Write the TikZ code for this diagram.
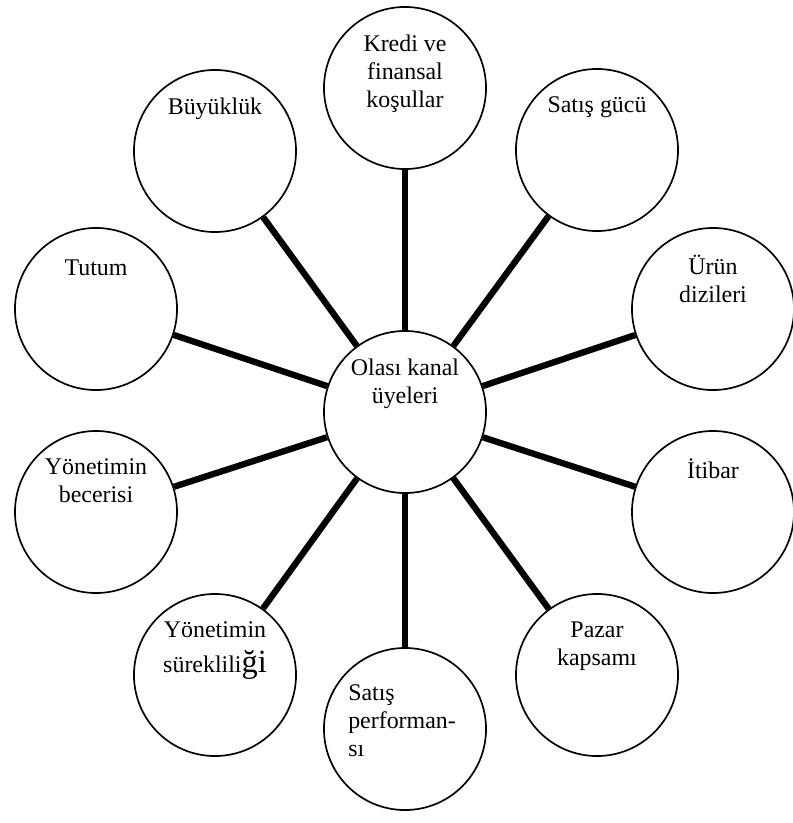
\documentclass[tikz,border=0pt]{standalone}
\usepackage{fontspec}
\setmainfont{Liberation Serif}
\usetikzlibrary{positioning}

\begin{document}
\begin{tikzpicture}[x=0.025cm, y=-0.025cm,
  uye/.style={draw, circle, line width=1.2pt, minimum size=4.05cm, inner sep=0pt},
  yazi/.style={anchor=north, align=center, inner sep=0pt, font=\fontsize{17}{20}\selectfont},
  bag/.style={line width=4.5pt}]

  \useasboundingbox (0,0) rectangle (792,823);

  % Merkezdeki daire
  \node[uye] (merkez) at (405,412) {};

  % Cevredeki daireler
  \node[uye] (kredi) at (405,88) {};
  \node[uye] (buyukluk) at (215,151) {};
  \node[uye] (satis) at (597,150) {};
  \node[uye] (tutum) at (96,309) {};
  \node[uye] (urun) at (713,309) {};
  \node[uye] (beceri) at (96,512) {};
  \node[uye] (itibar) at (713,512) {};
  \node[uye] (sureklilik) at (215,675) {};
  \node[uye] (perf) at (405,729) {};
  \node[uye] (pazar) at (597,675) {};

  % Daire yazilari
  \node[yazi, below=0.7cm of merkez.north] (tmerkez) {Olası kanal\\üyeleri};
  \node[yazi, below=0.7cm of kredi.north] (tkredi) {Kredi ve\\finansal\\koşullar};
  \node[yazi, below=0.7cm of buyukluk.north] (tbuyukluk) {Büyüklük};
  \node[yazi, below=0.7cm of satis.north] (tsatis) {Satış gücü};
  \node[yazi, below=0.8cm of tutum.north] (ttutum) {Tutum};
  \node[yazi, below=0.7cm of urun.north] (turun) {Ürün\\dizileri};
  \node[yazi, below=0.7cm of beceri.north] (tberceri) {Yönetimin\\becerisi};
  \node[yazi, below=0.7cm of itibar.north] (titibar) {İtibar};
  \node[yazi, below=0.7cm of sureklilik.north] (tsureklilik) {Yönetimin\\[5pt]süreklili{\fontsize{23}{20}\selectfont ği}};
  \node[yazi, below=0.7cm of pazar.north] (tpazar) {Pazar\\kapsamı};
  \node[yazi, anchor=north west, align=left] (tperf) at ([shift={(-57,37)}]perf.north) {Satış\\performan-\\sı};

  % Merkezden daireye baglar
  \draw[bag] (merkez) -- (kredi);
  \draw[bag] (merkez) -- (buyukluk);
  \draw[bag] (merkez) -- (satis);
  \draw[bag] (merkez) -- (tutum);
  \draw[bag] (merkez) -- (urun);
  \draw[bag] (merkez) -- (beceri);
  \draw[bag] (merkez) -- (itibar);
  \draw[bag] (merkez) -- (sureklilik);
  \draw[bag] (merkez) -- (perf);
  \draw[bag] (merkez) -- (pazar);

\end{tikzpicture}
\end{document}
